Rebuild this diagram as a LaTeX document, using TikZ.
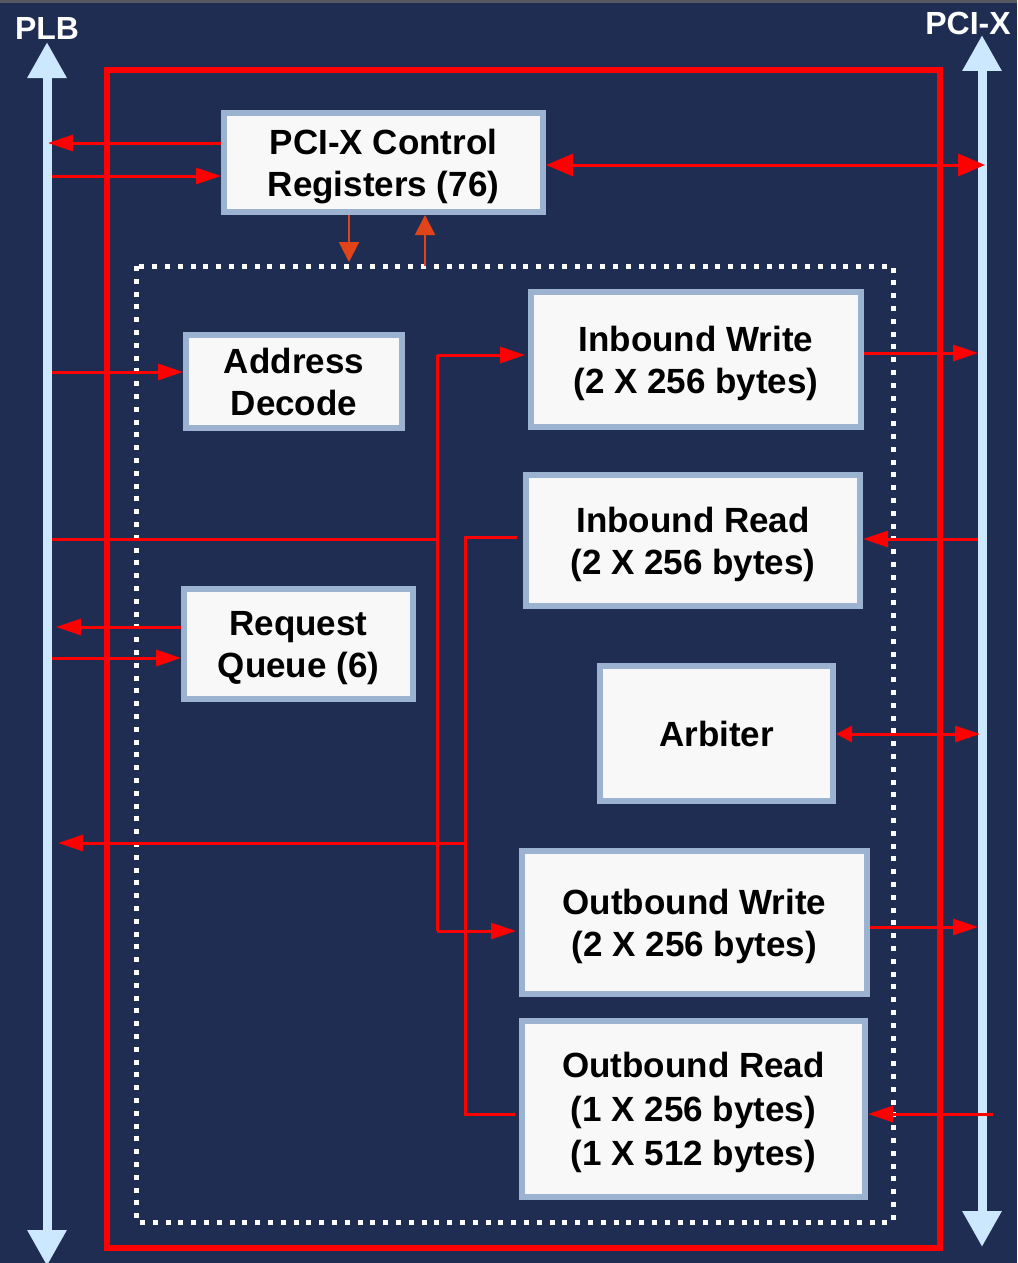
\documentclass[tikz,border=0pt]{standalone}
\usepackage{fontspec}
\setmainfont{Liberation Sans}
\usetikzlibrary{arrows.meta}

\definecolor{navy}{RGB}{31,45,82}
\definecolor{busblue}{RGB}{204,232,255}
\definecolor{sigred}{RGB}{255,0,0}
\definecolor{regorange}{RGB}{226,68,26}
\definecolor{frameblue}{RGB}{155,178,208}
\definecolor{boxwhite}{RGB}{248,248,248}
\definecolor{topgray}{RGB}{85,89,96}

\tikzset{
  blk/.style={draw=frameblue, line width=6pt, fill=boxwhite, inner sep=0pt,
    align=center, text=black, text depth=-3pt,
    font=\fontsize{35}{42}\selectfont\bfseries},
  sig/.style={draw=sigred, line width=3pt},
  sigarrow/.style={sig, -{Triangle[length=25pt,width=16pt]}},
  sigboth/.style={sig, {Triangle[length=27pt,width=22pt]}-{Triangle[length=27pt,width=22pt]}},
  regarrow/.style={draw=regorange, line width=2pt, -{Triangle[length=20pt,width=20pt]}},
  bus/.style={draw=busblue, line width=9pt,
    {Triangle[length=36pt,width=37pt]}-{Triangle[length=36pt,width=37pt]}},
  buslabel/.style={text=white, font=\fontsize{32}{36}\selectfont\bfseries, inner sep=0pt},
}

\begin{document}
\begin{tikzpicture}[x=1pt, y=-1pt]
  % canvas
  \fill[navy] (0,0) rectangle (1017,1263);
  \useasboundingbox (0,0) rectangle (1017,1263);
  \fill[topgray] (0,0) rectangle (1017,3);

  % bus end points
  \coordinate (plbTop) at (47,42);
  \coordinate (plbBot) at (47,1266);
  \coordinate (pcixTop) at (982,35);
  \coordinate (pcixBot) at (982,1247);

  % the two buses
  \draw[bus] (plbTop) -- (plbBot);
  \draw[bus] (pcixTop) -- (pcixBot);
  \node[buslabel] (plbLabel) at (47,28) {PLB};
  \node[buslabel] (pcixLabel) at (968,23) {PCI-X};

  % bridge outline and internal buffer area
  \draw[sigred, line width=6pt] (107,70) rectangle (940,1248);
  \draw[white, line width=5pt, dash pattern=on 5pt off 7.8pt] (136,266) rectangle (893,1222);

  % functional blocks
  \node[blk, minimum width=319pt, minimum height=99pt] (ctrl) at (383.5,162.5) {PCI-X Control\\Registers (76)};
  \node[blk, minimum width=216pt, minimum height=93pt] (addr) at (294,381.5) {Address\\Decode};
  \node[blk, minimum width=330pt, minimum height=135pt] (inw) at (696,359.5) {Inbound Write\\(2 X 256 bytes)};
  \node[blk, minimum width=334pt, minimum height=131pt] (inr) at (693,540.5) {Inbound Read\\(2 X 256 bytes)};
  \node[blk, minimum width=229pt, minimum height=110pt, text depth=-4pt] (rq) at (298.5,644) {Request\\Queue (6)};
  \node[blk, minimum width=233pt, minimum height=135pt] (arb) at (716.5,733.5) {Arbiter};
  \node[blk, minimum width=345pt, minimum height=143pt, text depth=-1pt] (outw) at (694.5,922.5) {Outbound Write\\(2 X 256 bytes)};
  \node[blk, minimum width=343pt, minimum height=176pt, text depth=-8pt,
        font=\fontsize{35}{44}\selectfont\bfseries] (outr) at (693.5,1109) {Outbound Read\\(1 X 256 bytes)\\(1 X 512 bytes)};

  % tap points on the PLB side
  \coordinate (plbCtrlOut) at (48,143);
  \coordinate (plbCtrlIn) at (52,176);
  \coordinate (plbAddr) at (52,372);
  \coordinate (plbWr) at (52,539);
  \coordinate (plbRqOut) at (56,627);
  \coordinate (plbRqIn) at (52,658);
  \coordinate (plbRd) at (58,843);

  % tap points on the PCI-X side
  \coordinate (pcixCtrl) at (985,165);
  \coordinate (pcixInW) at (978,353);
  \coordinate (pcixInR) at (978,539);
  \coordinate (pcixArb) at (980,734);
  \coordinate (pcixOutW) at (978,927);
  \coordinate (pcixOutR) at (993,1114);

  % routing junctions inside the buffer area
  \coordinate (wrTop) at (437,355);
  \coordinate (wrMid) at (437,539);
  \coordinate (wrBot) at (437,931);
  \coordinate (rdTop) at (465,537);
  \coordinate (rdMid) at (465,843);
  \coordinate (rdBot) at (465,1114);

  % register access
  \draw[sigarrow] (ctrl.west |- plbCtrlOut) -- (plbCtrlOut);
  \draw[sigarrow] (plbCtrlIn) -- (ctrl.west |- plbCtrlIn);
  \draw[sigboth] (ctrl.east |- pcixCtrl) -- (pcixCtrl);
  \draw[regarrow] (ctrl.south -| 349,0) -- (349,262);
  \draw[regarrow] (425,266) -- (ctrl.south -| 425,0);

  % address decode
  \draw[sigarrow] (plbAddr) -- (addr.west |- plbAddr);

  % write path from the PLB
  \draw[sig] (plbWr) -- (wrMid);
  \draw[sig] (wrTop) -- (wrBot);
  \draw[sigarrow] (wrTop) -- ([xshift=-3pt]inw.west |- wrTop);
  \draw[sigarrow] (wrBot) -- ([xshift=-3pt]outw.west |- wrBot);

  % read path to the PLB
  \draw[sig] ([xshift=-6pt]inr.west |- rdTop) -- (rdTop) -- (rdBot) -- ([xshift=-4pt]outr.west |- rdBot);
  \draw[sigarrow] (rdMid) -- (plbRd);

  % request queue
  \draw[sigarrow] (rq.west |- plbRqOut) -- (plbRqOut);
  \draw[sigarrow] (plbRqIn) -- (rq.west |- plbRqIn);

  % PCI-X side connections
  \draw[sigarrow] (inw.east |- pcixInW) -- (pcixInW);
  \draw[sigarrow] (pcixInR) -- (inr.east |- pcixInR);
  \draw[sig, {Triangle[length=16pt,width=16pt]}-{Triangle[length=25pt,width=16pt]}] (arb.east |- pcixArb) -- (pcixArb);
  \draw[sigarrow] (outw.east |- pcixOutW) -- (pcixOutW);
  \draw[sigarrow] (pcixOutR) -- (outr.east |- pcixOutR);
\end{tikzpicture}
\end{document}
